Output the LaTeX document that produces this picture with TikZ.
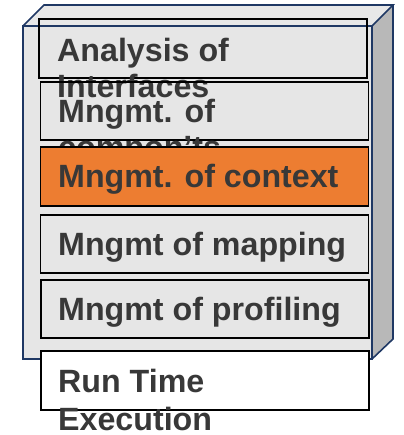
\documentclass[tikz,border=0pt]{standalone}
\usepackage{fontspec}
\setmainfont{Liberation Sans}
\begin{document}
\begin{tikzpicture}[x=1pt,y=-1pt,
  cubeline/.style={draw=cubeedge,line width=1.6pt,line join=miter},
  layer/.style={draw=black,line width=1.5pt,minimum width=328pt,minimum height=58pt,inner sep=0pt},
  lbl/.style={anchor=base west,inner sep=0pt,text=labeltext,font=\fontsize{32.2}{36}\selectfont\bfseries}
]
\definecolor{cubeedge}{HTML}{1F3864}
\definecolor{frontface}{HTML}{E6E6E6}
\definecolor{topface}{HTML}{E8E8E8}
\definecolor{sideface}{HTML}{B8B8B8}
\definecolor{labeltext}{HTML}{383838}
\definecolor{accent}{HTML}{ED7D31}
\useasboundingbox (0,0) rectangle (403,435);

% the box: front, top and side faces
\coordinate (fTL) at (23,26);
\coordinate (fTR) at (372,26);
\coordinate (fBR) at (372,359);
\coordinate (fBL) at (23,359);
\coordinate (bTL) at (44,5);
\coordinate (bTR) at (393,5);
\coordinate (bBR) at (393,339);
\fill[frontface] (fTL) -- (fTR) -- (fBR) -- (fBL) -- cycle;
\fill[topface] (fTL) -- (bTL) -- (bTR) -- (fTR) -- cycle;
\fill[sideface] (fTR) -- (bTR) -- (bBR) -- (fBR) -- cycle;
\draw[cubeline] (fTL) -- (fTR) -- (fBR) -- (fBL) -- cycle;
\draw[cubeline] (fTL) -- (bTL) -- (bTR) -- (fTR);
\draw[cubeline] (bTR) -- (bBR) -- (fBR);

% layers
\node[layer,minimum height=59pt] (l1) at (203,48.5) {};
\node[lbl] (t1a) at (57,62) {Analysis of};
\node[lbl] (t1b) at (57,98) {Interfaces};

\node[layer] (l2) at (204.5,111) {};
\node[lbl] (t2a) at (58,123) {Mngmt. of};
\node[lbl] (t2b) at (58,159) {compon’ts};

\node[layer,fill=accent,minimum height=59pt] (l3) at (204.5,176.5) {};
\node[lbl] (t3) at (58,188) {Mngmt. of context};

\node[layer] (l4) at (204.5,244) {};
\node[lbl] (t4) at (58,255) {Mngmt of mapping};

\node[layer] (l5) at (205,309) {};
\node[lbl] (t5) at (58,320) {Mngmt of profiling};

\node[layer,fill=white,minimum height=59pt] (l6) at (204.75,380.5) {};
\node[lbl] (t6a) at (58,392) {Run Time};
\node[lbl] (t6b) at (58,430) {Execution};
\end{tikzpicture}
\end{document}
